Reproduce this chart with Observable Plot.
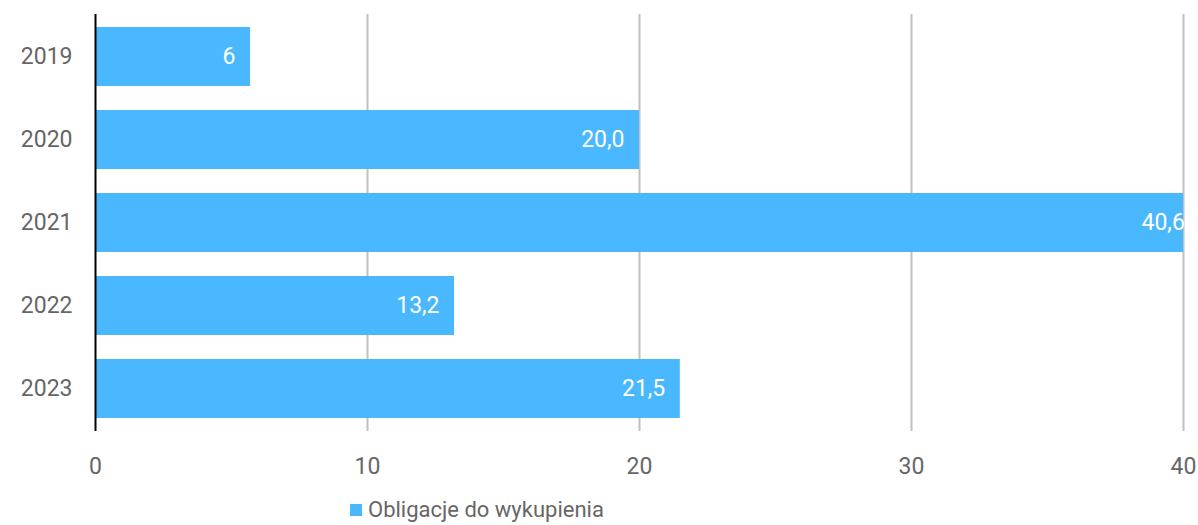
<!DOCTYPE html>
<html>
<head>
<meta charset="utf-8">
<script src="https://cdn.jsdelivr.net/npm/d3@7"></script>
<script src="https://cdn.jsdelivr.net/npm/@observablehq/plot@0.6"></script>
<style>
  html, body { margin: 0; padding: 0; background: #fff; }
  body { width: 1198px; height: 525px; position: relative; overflow: hidden;
         font-family: Roboto, sans-serif; }
  #chart { position: absolute; left: 0; top: 0; }
  #legend { position: absolute; left: 350px; top: 497px; display: flex; align-items: center;
            font-size: 22px; color: #666; }
  #legend .sw { width: 12px; height: 12px; background: #4ab8ff; margin-right: 6px; }
</style>
</head>
<body>
<div id="chart"></div>
<div id="legend"><span class="sw"></span><span>Obligacje do wykupienia</span></div>
<script>
const years = ["2019", "2020", "2021", "2022", "2023"];
const values = [5.7, 20.0, 40.6, 13.2, 21.5];
const labels = ["6", "20,0", "40,6", "13,2", "21,5"];
const xTicks = [0, 10, 20, 30, 40];
const seriesName = "Obligacje do wykupienia";

const data = years.map((y, i) => ({year: y, value: values[i], label: labels[i]}));
const FONT = 'Roboto, sans-serif';

const chart = Plot.plot({
  width: 1198,
  height: 492,
  marginLeft: 95,
  marginRight: 15,
  marginTop: 14,
  marginBottom: 61,
  style: {fontFamily: FONT, background: "#fff", overflow: "visible"},
  x: {domain: [0, 40], ticks: xTicks},
  y: {domain: years, paddingInner: 0.29, paddingOuter: 0.145, label: null},
  marks: [
    Plot.gridX(xTicks.filter(d => d > 0), {stroke: "#c0c0c0", strokeOpacity: 1, strokeWidth: 2}),
    Plot.barX(data, {x: "value", y: "year", fill: "#4ab8ff", clip: true}),
    Plot.text(data, {x: "value", y: "year", text: "label", textAnchor: "end", dx: -15,
                     fill: "#fff", fontSize: 23}),
    Plot.ruleX([0], {stroke: "#000", strokeWidth: 2}),
    Plot.axisX({ticks: xTicks, tickSize: 0, tickPadding: 26, fontSize: 23, color: "#666", label: null, tickFormat: d => String(d)}),
    Plot.axisY({tickSize: 0, tickPadding: 23, fontSize: 23, color: "#666", label: null})
  ]
});
document.getElementById("chart").appendChild(chart);
</script>
</body>
</html>
